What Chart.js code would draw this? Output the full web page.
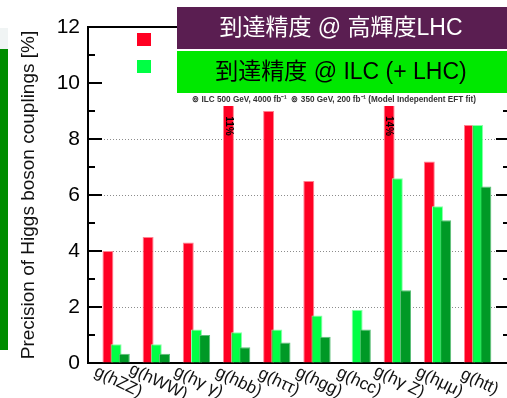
<!DOCTYPE html>
<html>
<head>
<meta charset="utf-8">
<style>
  html, body { margin: 0; padding: 0; background: #fff; overflow: hidden; }
  #wrap { width: 515px; height: 398px; }
</style>
</head>
<body>
<div id="wrap"><canvas id="couplings" width="515" height="398"></canvas></div>
<script src="https://cdn.jsdelivr.net/npm/chart.js@4.4.0/dist/chart.umd.min.js"></script>
<script>
  // 結合定数ごとの精度 [%]
  const categories = ['g(hZZ)', 'g(hWW)', 'g(hγ γ)', 'g(hbb)', 'g(hττ)', 'g(hgg)', 'g(hcc)', 'g(hγ Z)', 'g(hμμ)', 'g(htt)'];
  const hlLhc   = [4.0, 4.5, 4.3, 11, 9.0, 6.5, null, 14, 7.2, 8.5];
  const ilc     = [0.67, 0.67, 1.2, 1.1, 1.2, 1.7, 1.9, 6.6, 5.6, 8.5];
  const ilcFull = [0.33, 0.33, 1.0, 0.56, 0.73, 0.94, 1.2, 2.6, 5.1, 6.3];
  const yTicks = [0, 2, 4, 6, 8, 10, 12];
  const yGridLines = [2, 4, 6, 8];

  const bannerLhc = '到達精度 @ 高輝度LHC';
  const bannerIlc = '到達精度 @ ILC (+ LHC)';
  const fitNote = '⊚ ILC 500 GeV, 4000 fb⁻¹  ⊚ 350 GeV, 200 fb⁻¹ (Model Independent EFT fit)';

  const FONT = '"Liberation Sans", Arial, "Noto Sans CJK JP", sans-serif';
  const RED = '#ff0022', LIGHT = '#00ff44', DARK = '#009926';
  const NOTE_BOTTOM = 106;

  // 3本の棒を少しずつ重ねて並べる
  const SHIFT = 0.204;
  const toPoints = (arr, k) => arr.map((v, i) => ({ x: i + (k - 1) * SHIFT, y: v }));

  // 枠・目盛り・ラベル・見出し
  const decorations = {
    id: 'decorations',
    beforeDraw(chart) {
      const ctx = chart.ctx;
      ctx.save();
      ctx.fillStyle = '#f0f4f4';
      ctx.fillRect(0, 28, 8, 21);
      ctx.fillStyle = '#008c00';
      ctx.fillRect(0, 49, 8, 301);
      ctx.restore();
    },
    afterDatasetsDraw(chart) {
      const { ctx, chartArea: a, scales: { x, y } } = chart;
      ctx.save();
      ctx.strokeStyle = '#000';
      ctx.lineWidth = 2;
      ctx.beginPath();
      ctx.moveTo(a.left, a.top);
      ctx.lineTo(a.right, a.top);
      ctx.lineTo(a.right, a.bottom);
      ctx.stroke();

      // 内向きの目盛り（左右）
      y.ticks.forEach(t => {
        const py = Math.round(y.getPixelForValue(t.value));
        const len = t.value % 2 === 0 ? 14 : 7;
        ctx.beginPath();
        ctx.moveTo(a.left, py);
        ctx.lineTo(a.left + len, py);
        ctx.moveTo(a.right, py);
        ctx.lineTo(a.right - len + 1, py);
        ctx.stroke();
      });

      // 上端が隠れる棒には値を書く
      const meta = chart.getDatasetMeta(0);
      ctx.fillStyle = '#000';
      ctx.font = 'bold 10px ' + FONT;
      ctx.textAlign = 'center';
      ctx.textBaseline = 'middle';
      hlLhc.forEach((v, i) => {
        if (v == null || y.getPixelForValue(v) > NOTE_BOTTOM) return;
        const bar = meta.data[i];
        ctx.save();
        ctx.translate(bar.x, 126);
        ctx.rotate(Math.PI / 2);
        ctx.fillText(v + '%', 0, 0);
        ctx.restore();
      });

      // 斜めのカテゴリラベル
      ctx.font = '17px ' + FONT;
      ctx.fillStyle = '#111';
      categories.forEach((c, i) => {
        ctx.save();
        ctx.translate(x.getPixelForValue(i) + 2, 382);
        ctx.rotate(26 * Math.PI / 180);
        ctx.fillText(c, 0, 0);
        ctx.restore();
      });
      ctx.restore();
    },
    afterDraw(chart) {
      const ctx = chart.ctx;
      ctx.save();
      // 凡例マーカー
      ctx.fillStyle = RED;
      ctx.fillRect(137, 33, 14, 13);
      ctx.fillStyle = LIGHT;
      ctx.fillRect(137, 60, 14, 13);

      // 見出しと注記の下地
      ctx.fillStyle = '#fff';
      ctx.fillRect(177, 7, 340, NOTE_BOTTOM - 7);
      ctx.fillStyle = '#333';
      ctx.font = 'bold 9px ' + FONT;
      ctx.textAlign = 'center';
      ctx.textBaseline = 'middle';
      ctx.fillText(fitNote, 334, 99.5, 284);

      // 見出しボックス
      ctx.fillStyle = '#5a1e51';
      ctx.fillRect(177, 7, 340, 42);
      ctx.fillStyle = '#00e800';
      ctx.fillRect(177, 51, 340, 42);
      ctx.font = '23px ' + FONT;
      ctx.fillStyle = '#fff';
      ctx.fillText(bannerLhc, 341, 29);
      ctx.fillStyle = '#000';
      ctx.fillText(bannerIlc, 341, 73);
      ctx.restore();
    }
  };

  new Chart(document.getElementById('couplings'), {
    type: 'bar',
    data: {
      datasets: [
        { label: 'HL-LHC', data: toPoints(hlLhc, 0), backgroundColor: RED, borderColor: '#ff8290', borderWidth: 1, order: 2 },
        { label: 'ILC', data: toPoints(ilc, 1), backgroundColor: LIGHT, borderColor: '#8cffaa', borderWidth: 1, order: 1 },
        { label: 'ILC full', data: toPoints(ilcFull, 2), backgroundColor: DARK, borderColor: '#5cbf78', borderWidth: 1, order: 0 }
      ]
    },
    options: {
      responsive: false,
      animation: false,
      events: [],
      layout: { padding: { top: 27, right: 6, left: 0, bottom: 0 } },
      datasets: { bar: { grouped: false, categoryPercentage: 1, barPercentage: 1.34 } },
      plugins: { legend: { display: false }, tooltip: { enabled: false } },
      scales: {
        x: {
          type: 'linear',
          offset: false,
          min: -0.7,
          max: 9.78,
          grid: { display: false, offset: false },
          border: { color: '#000', width: 2 },
          ticks: { display: false, stepSize: 1, includeBounds: false },
          afterFit: s => { s.height = 35; }
        },
        y: {
          min: 0,
          max: 12,
          ticks: {
            stepSize: 1,
            autoSkip: false,
            padding: 8,
            color: '#000',
            font: { size: 21, family: FONT },
            callback: v => yTicks.includes(v) ? v : ''
          },
          grid: {
            drawTicks: false,
            lineWidth: 1,
            color: c => yGridLines.includes(c.tick.value) ? '#8c8c8c' : 'transparent'
          },
          border: { color: '#000', width: 2, dash: [1, 2] },
          title: {
            display: true,
            text: 'Precision of Higgs boson couplings [%]',
            color: '#111',
            font: { size: 19, family: FONT },
            padding: { top: 17, bottom: 0 }
          },
          afterFit: s => { s.width = 88; }
        }
      }
    },
    plugins: [decorations]
  });
</script>
</body>
</html>
